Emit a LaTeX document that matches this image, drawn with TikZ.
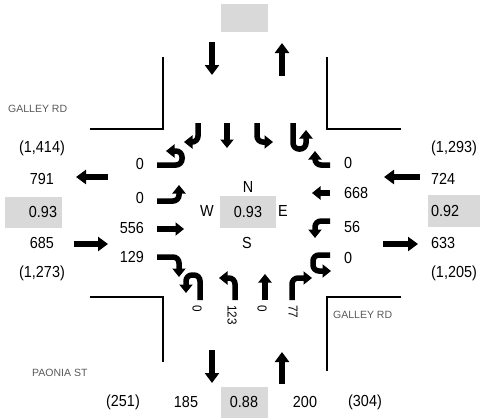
\documentclass[tikz,border=0pt]{standalone}
\usepackage{fontspec}
\setmainfont{Liberation Sans}
\newfontfamily\narrowfont[FakeStretch=0.9]{Liberation Sans}
\usepackage{tikz}
\usetikzlibrary{arrows.meta}
\definecolor{cellgray}{RGB}{217,217,217}
\definecolor{streetgray}{RGB}{89,89,89}
\begin{document}
\begin{tikzpicture}[x=1pt,y=-1pt,
  mv/.style={line width=5.5pt,-{Triangle[width=13pt,length=8.5pt]},rounded corners=6pt},
  vol/.style={line width=6pt,-{Triangle[width=14pt,length=10pt]}},
  curb/.style={line width=1.3pt},
  num/.style={font=\narrowfont\fontsize{16}{18}\selectfont,inner sep=0pt},
  turnlbl/.style={font=\narrowfont\fontsize{13}{15}\selectfont,inner sep=0pt,rotate=-90,anchor=west},
  street/.style={font=\fontsize{10.5}{12}\selectfont,text=streetgray,inner sep=0pt,anchor=west}]
 \useasboundingbox (0,0) rectangle (480,418);
 % curb lines
 \draw[curb] (163,57) -- (163,129) -- (90,129);
 \draw[curb] (327,57) -- (327,129) -- (401,129);
 \draw[curb] (90,297) -- (163,297) -- (163,362);
 \draw[curb] (401,297) -- (327,297) -- (327,371);
 % gray cells
 \fill[cellgray] (221,4) rectangle (268,32);
 \fill[cellgray] (5,197) rectangle (62,228);
 \fill[cellgray] (428,195) rectangle (480,227);
 \fill[cellgray] (221,387) rectangle (268,418);
 \fill[cellgray] (220,196) rectangle (276,228);
 % volume arrows
 \draw[vol] (212,42) -- (212,75);
 \draw[vol] (282,76) -- (282,43);
 \draw[vol] (212,350) -- (212,383);
 \draw[vol] (282,384) -- (282,352);
 \draw[vol] (108,177) -- (76,177);
 \draw[vol] (74,244) -- (108,244);
 \draw[vol] (420,177) -- (384,177);
 \draw[vol] (383,244) -- (418,244);
 % southbound
 \draw[mv] (198,123) |- (184,142);
 \draw[mv] (227,123) -- (227,148);
 \draw[mv] (257,123) |- (273,142);
 \draw[mv] (293,123) -- (293,149) -- (306,149) -- (306,130);
 % eastbound
 \draw[mv] (157,165) -- (182,165) -- (182,151) -- (166,151);
 \draw[mv] (157,201) -| (179,185);
 \draw[mv] (157,229) -- (184,229);
 \draw[mv] (157,257) -| (179,277);
 % westbound
 \draw[mv] (330,165) -| (315,151);
 \draw[mv] (330,193) -- (312,193);
 \draw[mv] (330,221) -| (315,238);
 \draw[mv] (330,255) -- (313,255) -- (313,271) -- (331,271);
 % northbound
 \draw[mv] (200,300) -- (200,275) -- (186,275) -- (186,293);
 \draw[mv] (235,300) |- (219,278);
 \draw[mv] (265,300) -- (265,274);
 \draw[mv] (292,300) |- (312,278);
 % turning volumes
 \foreach \v/\y [count=\i] in {0/164,0/198,556/228,129/257}
  \node[num,anchor=east] (eb\i) at (144,\y) {\v};
 \foreach \v/\y [count=\i] in {0/163,668/193,56/227,0/258}
  \node[num,anchor=west] (wb\i) at (344,\y) {\v};
 \foreach \v/\x [count=\i] in {0/197,123/232,0/262,77/293}
  \node[turnlbl] (nb\i) at (\x,305) {\v};
 % center
 \node[num] (cn) at (248,187) {N};
 \node[num] (cw) at (207,211) {W};
 \node[num] (cpf) at (248,212) {0.93};
 \node[num] (ce) at (283,211) {E};
 \node[num] (cs) at (247,243) {S};
 % west leg
 \node[num] (wout) at (42,148) {(1,414)};
 \node[num] (wvo) at (42,179) {791};
 \node[num] (wpf) at (43,212) {0.93};
 \node[num] (wvi) at (42,243) {685};
 \node[num] (win) at (42,273) {(1,273)};
 % east leg
 \node[num,anchor=west] (ein) at (431,148) {(1,293)};
 \node[num,anchor=west] (evi) at (431,179) {724};
 \node[num,anchor=west] (epf) at (431,211) {0.92};
 \node[num,anchor=west] (evo) at (431,243) {633};
 \node[num,anchor=west] (eout) at (431,273) {(1,205)};
 % south leg
 \node[num] (sout) at (123,402) {(251)};
 \node[num] (svo) at (186,402) {185};
 \node[num] (spf) at (244,402) {0.88};
 \node[num] (svi) at (305,402) {200};
 \node[num] (sin) at (365,402) {(304)};
 % street names
 \node[street] (galw) at (8,109) {GALLEY RD};
 \node[street] (gale) at (333,315) {GALLEY RD};
 \node[street] (paon) at (32,373) {PAONIA ST};
\end{tikzpicture}
\end{document}
